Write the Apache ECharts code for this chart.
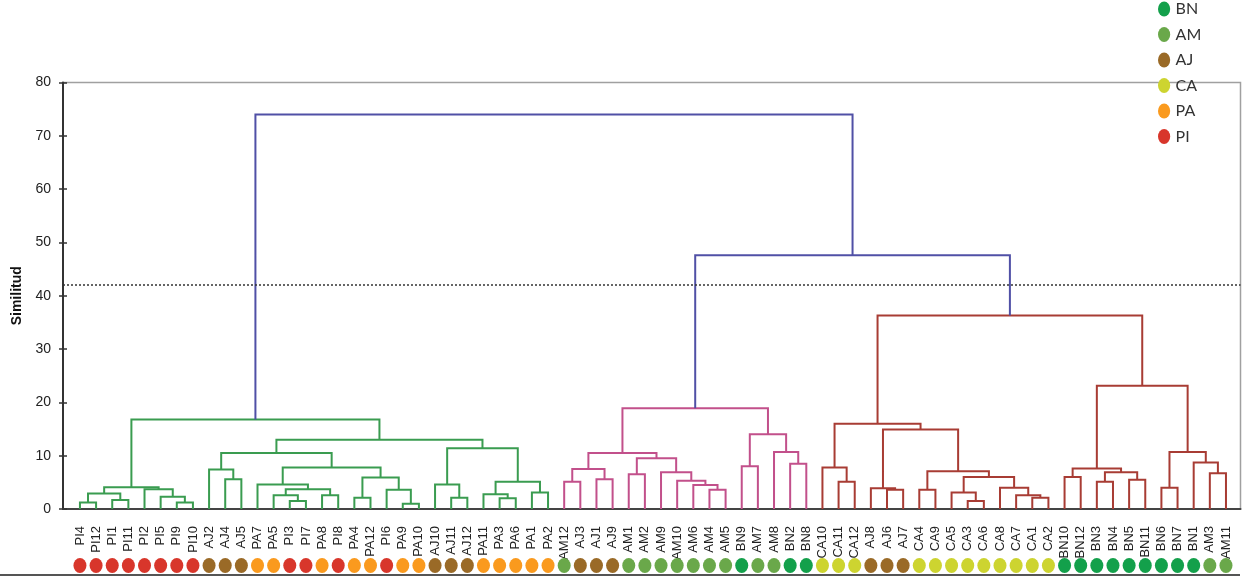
<!DOCTYPE html>
<html><head><meta charset="utf-8">
<script src="https://cdn.jsdelivr.net/npm/echarts@6/dist/echarts.min.js"></script>
<style>html,body{margin:0;padding:0;background:#fff}#c{width:1251px;height:577px}</style>
</head><body><div id="c"></div>
<script>
// ---- data ----
const leaves = ['PI4','PI12','PI1','PI11','PI2','PI5','PI9','PI10','AJ2','AJ4','AJ5','PA7','PA5','PI3','PI7','PA8','PI8','PA4','PA12','PI6','PA9','PA10','AJ10','AJ11','AJ12','PA11','PA3','PA6','PA1','PA2',
  'AM12','AJ3','AJ1','AJ9','AM1','AM2','AM9','AM10','AM6','AM4','AM5','BN9','AM7','AM8','BN2','BN8',
  'CA10','CA11','CA12','AJ8','AJ6','AJ7','CA4','CA9','CA5','CA3','CA6','CA8','CA7','CA1','CA2',
  'BN10','BN12','BN3','BN4','BN5','BN11','BN6','BN7','BN1','AM3','AM11'];
// [left, right, similarity] ; merge k is referred to as 'n'+k
const merges = [
 ['PI4','PI12',1.2],['PI1','PI11',1.7],['n0','n1',2.9],['PI9','PI10',1.2],['PI5','n3',2.3],['PI2','n4',3.7],['n2','n5',4.1],
 ['AJ4','AJ5',5.6],['AJ2','n7',7.4],['PI3','PI7',1.5],['PA5','n9',2.6],['PA8','PI8',2.6],['n10','n11',3.7],['PA7','n12',4.6],
 ['PA4','PA12',2.1],['PA9','PA10',1.0],['PI6','n15',3.6],['n14','n16',5.9],['n13','n17',7.8],['n8','n18',10.5],
 ['AJ11','AJ12',2.1],['AJ10','n20',4.6],['PA3','PA6',2.0],['PA11','n22',2.75],['PA1','PA2',3.1],['n23','n24',5.1],['n21','n25',11.4],
 ['n19','n26',13.0],['n6','n27',16.8],
 ['AM12','AJ3',5.1],['AJ1','AJ9',5.6],['n29','n30',7.5],['AM1','AM2',6.5],['AM4','AM5',3.6],['AM6','n33',4.5],['AM10','n34',5.3],
 ['AM9','n35',6.9],['n32','n36',9.5],['n31','n37',10.5],['BN9','AM7',8.0],['BN2','BN8',8.5],['AM8','n40',10.7],['n39','n41',14.0],['n38','n42',18.9],
 ['CA11','CA12',5.1],['CA10','n44',7.8],['AJ6','AJ7',3.6],['AJ8','n46',3.9],['CA4','CA9',3.6],['CA3','CA6',1.5],['CA5','n49',3.1],
 ['CA1','CA2',2.1],['CA7','n51',2.6],['CA8','n52',4.0],['n50','n53',6.0],['n48','n54',7.1],['n47','n55',14.9],['n45','n56',16.0],
 ['BN10','BN12',6.0],['BN3','BN4',5.1],['BN5','BN11',5.5],['n59','n60',6.9],['n58','n61',7.6],['BN6','BN7',4.0],['AM3','AM11',6.7],
 ['BN1','n64',8.7],['n63','n65',10.7],['n62','n66',23.1],['n57','n67',36.3],['n43','n68',47.6],['n28','n69',74.0]
];
const groups = ['BN','AM','AJ','CA','PA','PI'];
const cutoff = 42;

// ---- styles ----
const groupColors = {BN:'#13a04b', AM:'#6aa84a', AJ:'#9a6a27', CA:'#cdd430', PA:'#fa9a1e', PI:'#d8362b'};
const clusterRoots = {n28:'#3a9c50', n43:'#c2508b', n68:'#a83c34'};
const topColor = '#5050a6';
const ellipse = 'path://M0,8A6.5,8 0 1,1 13,8A6.5,8 0 1,1 0,8Z';

// ---- layout of the tree ----
const pos = {}, hgt = {}, kids = {};
leaves.forEach((l,i)=>{pos[l]=i; hgt[l]=0;});
merges.forEach((m,k)=>{const id='n'+k; pos[id]=(pos[m[0]]+pos[m[1]])/2; hgt[id]=m[2]; kids[id]=[m[0],m[1]];});
const col = {};
function paint(id,c){col[id]=c; if(kids[id]) kids[id].forEach(ch=>paint(ch,c));}
Object.keys(clusterRoots).forEach(r=>paint(r,clusterRoots[r]));
const links = merges.map((m,k)=>[pos[m[0]],hgt[m[0]],pos[m[1]],hgt[m[1]],m[2],k]);

const dotLevel = -10.6;
const dotSeries = groups.map(g=>({
  name:g, type:'scatter', symbol:ellipse, symbolSize:[13,15], clip:false, silent:true,
  itemStyle:{color:groupColors[g], opacity:1},
  data: leaves.map((l,i)=>[i,dotLevel,l]).filter(d=>d[2].replace(/\d+/,'')===g),
  z:3
}));

const chart = echarts.init(document.getElementById('c'), null, {renderer:'canvas'});
chart.setOption({
  animation:false,
  backgroundColor:'#fff',
  grid:{left:63, right:10.5, top:82.5, bottom:68, show:true, borderColor:'#a0a0a0', borderWidth:1.5, backgroundColor:'transparent'},
  legend:{
    orient:'vertical', left:1158, top:1, padding:0, itemWidth:13, itemHeight:15, itemGap:9.5,
    icon:ellipse, data:groups,
    textStyle:{fontFamily:'Lato, "Open Sans", sans-serif', fontSize:16, color:'#333', lineHeight:15}
  },
  xAxis:{type:'value', min:-1.05, max:71.9, axisLabel:{show:false}, axisTick:{show:false}, splitLine:{show:false},
    axisLine:{show:true, onZero:false, lineStyle:{color:'#444', width:2}}},
  yAxis:[{type:'value', min:0, max:80, interval:10, name:'Similitud', nameLocation:'middle', nameGap:38,
    nameTextStyle:{fontFamily:'"Liberation Sans", Arial, sans-serif', fontWeight:'bold', fontSize:14, color:'#111'},
    axisLine:{show:true, onZero:false, lineStyle:{color:'#333', width:2}},
    axisTick:{show:true, length:4, lineStyle:{color:'#333', width:1.5}},
    axisLabel:{margin:12, fontFamily:'"Liberation Sans", Arial, sans-serif', fontSize:14, color:'#222'},
    splitLine:{show:false}},
   {type:'value', min:0, max:80, interval:10, position:'left', axisLine:{show:false, onZero:false},
    axisTick:{show:true, inside:true, length:4, lineStyle:{color:'#333', width:1.5}},
    axisLabel:{show:false}, splitLine:{show:false}}],
  series:[
    {type:'custom', silent:true, data:links, z:2,
     renderItem:(params,api)=>{
       const xl=api.value(0), hl=api.value(1), xr=api.value(2), hr=api.value(3), h=api.value(4), k=api.value(5);
       const c = col['n'+k] || topColor;
       return {type:'polyline', shape:{points:[api.coord([xl,hl]),api.coord([xl,h]),api.coord([xr,h]),api.coord([xr,hr])]},
         style:{stroke:c, lineWidth:2, fill:null}};
     },
     markLine:{silent:true, symbol:['none','none'], label:{show:false},
       lineStyle:{type:[2,2], color:'#333', width:1.5}, data:[{yAxis:cutoff}]}
    },
    {type:'custom', silent:true, clip:false, data:leaves.map((l,i)=>[i,0]), z:3,
     renderItem:(params,api)=>{
       const p = api.coord([api.value(0),0]);
       return {type:'text', x:p[0], y:p[1]+17, rotation:Math.PI/2,
         style:{text:leaves[params.dataIndex], align:'right', verticalAlign:'middle',
           font:'13px "Liberation Sans", Arial, sans-serif', fill:'#222'}};
     }},
    ...dotSeries
  ],
  graphic:[{type:'line', shape:{x1:0,y1:575,x2:1240,y2:575}, style:{stroke:'#555', lineWidth:2}, silent:true}]
});
</script></body></html>
